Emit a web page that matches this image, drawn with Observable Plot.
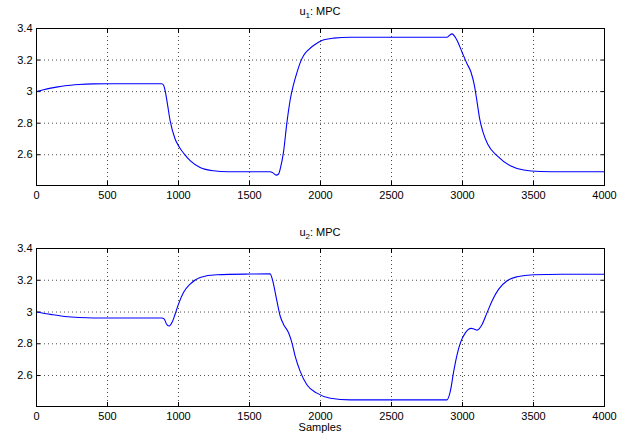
<!DOCTYPE html>
<html>
<head>
<meta charset="utf-8">
<script src="https://cdn.jsdelivr.net/npm/d3@7"></script>
<script src="https://cdn.jsdelivr.net/npm/@observablehq/plot@0.6"></script>
<style>
  body { margin: 0; background: #fff; }
  #wrap { position: relative; width: 636px; height: 434px; font-family: "Liberation Sans", Arial, sans-serif; }
  .panel { position: absolute; left: 0; }
  .title { position: absolute; width: 100%; text-align: center; font-size: 11px; color: #000; }
  .title sub { font-size: 8px; }
</style>
</head>
<body>
<div id="wrap"></div>
<script>
// ---- data ----
const xTicks = [0, 500, 1000, 1500, 2000, 2500, 3000, 3500, 4000];
const yTicks = [2.6, 2.8, 3.0, 3.2, 3.4];

const t1 = [0, 50, 100, 150, 200, 300, 400, 500, 882, 895, 905, 918, 941, 976, 1004, 1040, 1082, 1152, 1246, 1350, 1646, 1665, 1688, 1705, 1716, 1740, 1763, 1787, 1810, 1834, 1860, 1881, 1915, 1951, 2010, 2092, 2210, 2891, 2910, 2926, 2945, 2962, 2997, 3032, 3060, 3084, 3103, 3121, 3145, 3177, 3243, 3337, 3431, 3549, 3700, 4000];
const u1 = [3.0, 3.012, 3.022, 3.03, 3.037, 3.045, 3.049, 3.05, 3.05, 3.04, 3.01, 2.945, 2.816, 2.70, 2.651, 2.605, 2.562, 2.519, 2.498, 2.492, 2.492, 2.485, 2.471, 2.478, 2.509, 2.62, 2.80, 2.95, 3.045, 3.12, 3.19, 3.229, 3.265, 3.292, 3.324, 3.339, 3.345, 3.345, 3.358, 3.366, 3.35, 3.324, 3.25, 3.176, 3.123, 3.038, 2.932, 2.827, 2.742, 2.668, 2.594, 2.53, 2.503, 2.494, 2.492, 2.492];

const t2 = [0, 100, 200, 300, 400, 882, 900, 915, 934, 955, 976, 1000, 1035, 1082, 1152, 1270, 1505, 1646, 1658, 1669, 1693, 1716, 1740, 1775, 1799, 1822, 1857, 1904, 1975, 2069, 2210, 2891, 2914, 2938, 2962, 2985, 3020, 3060, 3080, 3103, 3138, 3173, 3208, 3255, 3314, 3384, 3502, 3700, 4000];
const u2 = [3.0, 2.985, 2.972, 2.965, 2.962, 2.962, 2.955, 2.925, 2.912, 2.935, 2.986, 3.05, 3.123, 3.176, 3.218, 3.235, 3.239, 3.24, 3.215, 3.176, 3.07, 2.975, 2.922, 2.869, 2.806, 2.72, 2.626, 2.542, 2.489, 2.457, 2.447, 2.447, 2.5, 2.626, 2.732, 2.806, 2.869, 2.897, 2.893, 2.886, 2.922, 2.996, 3.07, 3.144, 3.197, 3.222, 3.235, 3.238, 3.238];

const titles = ["u<sub>1</sub>: MPC", "u<sub>2</sub>: MPC"];

function panel(t, u, mTop, mBottom) {
  const data = t.map((x, i) => ({x, y: u[i]}));
  const fmt = d => d3.format("~g")(d);
  return Plot.plot({
    width: 636, height: 217,
    marginLeft: 36, marginRight: 32, marginTop: mTop, marginBottom: mBottom,
    style: {fontFamily: "Liberation Sans, Arial, sans-serif", fontSize: "11px", color: "#000", background: "#fff"},
    x: {domain: [0, 4000]},
    y: {domain: [2.405, 3.4]},
    marks: [
      Plot.gridX(xTicks, {stroke: "#000", strokeOpacity: 0.7, strokeDasharray: "1,3"}),
      Plot.gridY(yTicks, {stroke: "#000", strokeOpacity: 0.7, strokeDasharray: "1,3"}),
      Plot.axisX(xTicks, {anchor: "bottom", tickSize: -4, tickPadding: 10, tickFormat: fmt, label: null}),
      Plot.axisX(xTicks, {anchor: "top", tickSize: -4, tickFormat: () => "", label: null}),
      Plot.axisY(yTicks, {anchor: "left", tickSize: -4, tickPadding: 8, tickFormat: fmt, label: null}),
      Plot.axisY(yTicks, {anchor: "right", tickSize: -4, tickFormat: () => "", label: null}),
      Plot.line(data, {x: "x", y: "y", stroke: "#0000ff", strokeWidth: 1.1, curve: "monotone-x"}),
      Plot.frame({stroke: "#000", strokeWidth: 1})
    ]
  });
}

const wrap = document.getElementById("wrap");
const p1 = panel(t1, u1, 28, 32);
p1.classList.add("panel"); p1.style.top = "0px";
const p2 = panel(t2, u2, 31, 28);
p2.classList.add("panel"); p2.style.top = "217px";
wrap.appendChild(p1); wrap.appendChild(p2);

const h1 = document.createElement("div"); h1.className = "title"; h1.style.left = "2px"; h1.style.top = "5px"; h1.innerHTML = titles[0];
const h2 = document.createElement("div"); h2.className = "title"; h2.style.left = "2px"; h2.style.top = "226px"; h2.innerHTML = titles[1];
const xl = document.createElement("div"); xl.className = "title"; xl.style.left = "2px"; xl.style.top = "421px"; xl.textContent = "Samples";
wrap.appendChild(h1); wrap.appendChild(h2); wrap.appendChild(xl);
</script>
</body>
</html>
